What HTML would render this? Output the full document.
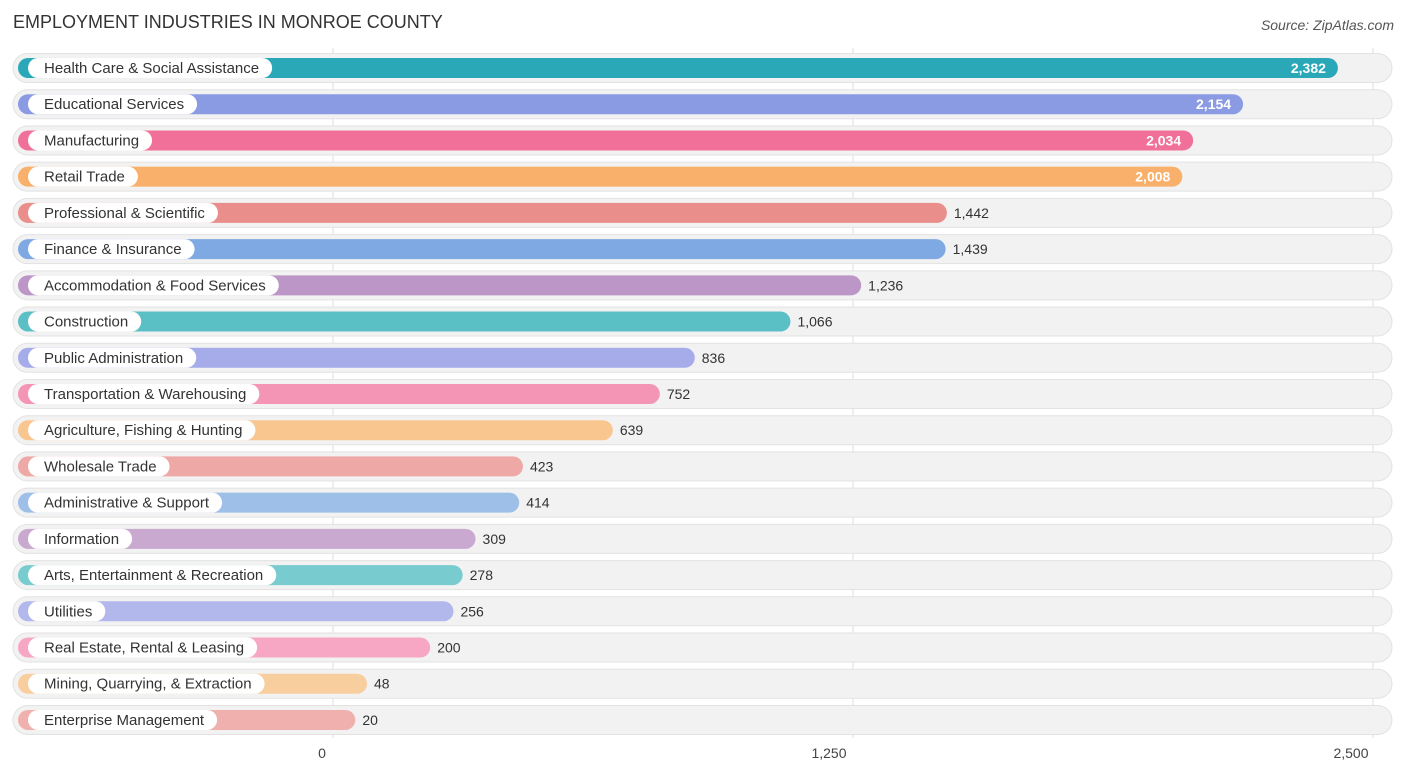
<!DOCTYPE html>
<html><head><meta charset="utf-8"><style>
body{margin:0;width:1406px;height:776px;background:#fff;font-family:"Liberation Sans",sans-serif;overflow:hidden}
text{font-family:"Liberation Sans",sans-serif}
</style></head><body>
<svg id="chart" width="1406" height="776">
<text x="13" y="28" font-size="18" fill="#333">EMPLOYMENT INDUSTRIES IN MONROE COUNTY</text>
<text x="1394" y="30" font-size="14" fill="#555" font-style="italic" text-anchor="end">Source: ZipAtlas.com</text>
<g id="grid"></g><g id="rows"></g><g id="ticks"></g>
</svg>
<script>
const categories=["Health Care & Social Assistance","Educational Services","Manufacturing","Retail Trade","Professional & Scientific","Finance & Insurance","Accommodation & Food Services","Construction","Public Administration","Transportation & Warehousing","Agriculture, Fishing & Hunting","Wholesale Trade","Administrative & Support","Information","Arts, Entertainment & Recreation","Utilities","Real Estate, Rental & Leasing","Mining, Quarrying, & Extraction","Enterprise Management"];
const values=[2382,2154,2034,2008,1442,1439,1236,1066,836,752,639,423,414,309,278,256,200,48,20];
const colors=["#2aa8b8","#8a9be3","#f07099","#f8b06a","#e98e8a","#7fa9e2","#bb96c6","#5bbfc6","#a5ace9","#f595b5","#f9c690","#eea8a5","#9ec0e8","#c9a9d0","#78cbcf","#b2b7ec","#f7a7c3","#f9ce9f","#f0b0ae"];
const tickValues=[0,1250,2500];
const tickLabels=["0","1,250","2,500"];
const NS="http://www.w3.org/2000/svg";
const x=v=>333+v*0.416;
const y=i=>68+i*36.22;
function mk(tag,attrs,parent){const e=document.createElementNS(NS,tag);for(const k in attrs)e.setAttribute(k,attrs[k]);parent.appendChild(e);return e;}
const grid=document.getElementById('grid'),rows=document.getElementById('rows'),ticks=document.getElementById('ticks');
tickValues.forEach((t,i)=>{
 const l=mk('line',{x1:x(t),x2:x(t),y1:48,y2:738,stroke:'#ddd','stroke-width':1},grid);
 
 
 const tx=mk('text',{x:x(t)-(i==0?11:i==1?24:22),y:758,'font-size':14,fill:'#444','text-anchor':'middle'},ticks);
 tx.textContent=tickLabels[i];
 
 
});
categories.forEach((c,i)=>{
 const cy=y(i);
 const g=mk('g',{},rows);
 
 
 mk('rect',{x:13,y:cy-14.5,width:1379,height:29,rx:14.5,fill:'#f2f2f2',stroke:'#e2e2e2'},g);
 const end=x(values[i])+14;
 const b=mk('rect',{x:18,y:cy-10,width:end-18,height:20,rx:10,fill:colors[i]},g);
 
 
 const pill=mk('rect',{x:28,y:cy-10,width:100,height:20,rx:10,fill:'#fff'},g);
 const t=mk('text',{x:44,y:cy+5,'font-size':15,fill:'#333'},g);
 t.textContent=c;
 
 
 let tw=c.length*7.6;
 try{tw=t.getComputedTextLength();}catch(e){}
 pill.setAttribute('width',tw+29);
 const inside=values[i]>1900;
 const v=mk('text',{x:inside?end-12:end+7,y:cy+5,'font-size':14,fill:inside?'#fff':'#333','text-anchor':inside?'end':'start','font-weight':inside?'bold':'normal'},g);
 v.textContent=values[i].toLocaleString('en-US');
 
 
});
</script>
</body></html>
